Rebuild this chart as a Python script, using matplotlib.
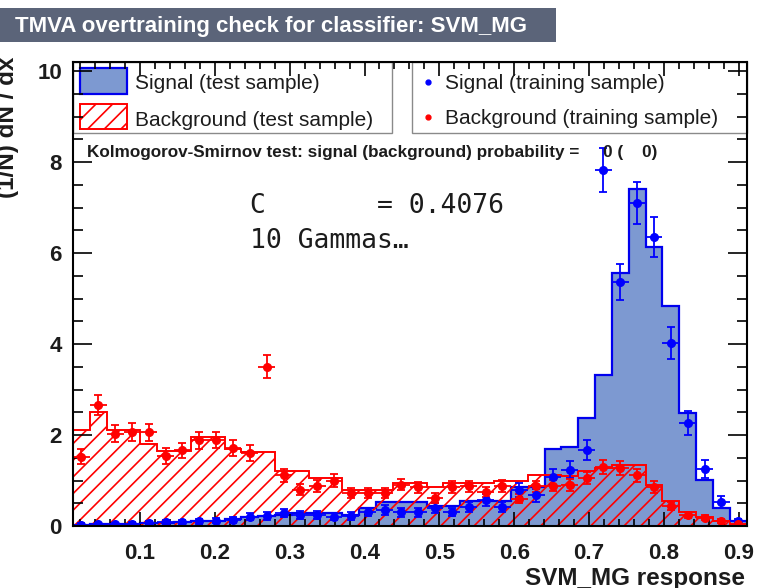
import numpy as np
import matplotlib
matplotlib.use("Agg")
import matplotlib.pyplot as plt
from matplotlib.patches import Rectangle
from matplotlib.lines import Line2D
from matplotlib.ticker import MultipleLocator

# ---- classifier output histograms (normalised, 40 bins) ----
x_lo, x_hi = 0.0104, 0.9107
n_bins = 40

sig_test = [0.03, 0.04, 0.05, 0.05, 0.06, 0.07, 0.08, 0.10, 0.12, 0.15,
            0.20, 0.22, 0.25, 0.28, 0.28, 0.28, 0.25, 0.40, 0.53, 0.53,
            0.53, 0.45, 0.45, 0.55, 0.55, 0.55, 0.85, 0.85, 1.69, 1.74,
            2.37, 3.32, 5.56, 7.40, 6.13, 4.84, 2.48, 1.01, 0.39, 0.10]

bkg_test = [2.10, 2.50, 2.10, 2.10, 1.80, 1.65, 1.65, 1.95, 1.95, 1.70,
            1.63, 1.63, 1.20, 1.20, 1.05, 1.05, 0.80, 0.80, 0.80, 0.95,
            0.95, 0.85, 0.95, 0.95, 0.95, 1.00, 1.00, 1.12, 1.12, 1.10,
            1.20, 1.27, 1.34, 1.34, 0.90, 0.55, 0.30, 0.20, 0.10, 0.04]

sig_train = [0.03, 0.04, 0.04, 0.05, 0.06, 0.08, 0.09, 0.10, 0.12, 0.14,
             0.20, 0.22, 0.28, 0.24, 0.24, 0.20, 0.22, 0.31, 0.35, 0.30,
             0.30, 0.40, 0.31, 0.42, 0.57, 0.42, 0.79, 0.68, 1.08, 1.24,
             1.67, 7.82, 5.36, 7.10, 6.35, 4.02, 2.27, 1.25, 0.53, 0.10]

bkg_train = [1.52, 2.66, 2.03, 2.07, 2.06, 1.54, 1.66, 1.88, 1.89, 1.71,
             1.61, 3.50, 1.12, 0.80, 0.88, 1.00, 0.72, 0.72, 0.72, 0.91,
             0.85, 0.62, 0.86, 0.87, 0.75, 0.88, 0.60, 0.87, 0.89, 0.90,
             1.05, 1.30, 1.27, 1.12, 0.86, 0.43, 0.25, 0.18, 0.11, 0.05]

# Poisson scale factors (1 / (N * bin width)) for the training samples
sig_scale = 0.030
bkg_scale = 0.018

title = "TMVA overtraining check for classifier: SVM_MG"
ks_text = "Kolmogorov-Smirnov test: signal (background) probability =     0 (    0)"
info_lines = ["C       = 0.4076", "10 Gammas\u2026"]
x_label = "SVM_MG response"
y_label = "(1/N) dN / dx"

SIG_FILL = "#7d99d1"
SIG_LINE = "#0000ee"
BKG_LINE = "#ff0000"
TXT = "#1c1c1c"

plt.rcParams["hatch.color"] = BKG_LINE
plt.rcParams["hatch.linewidth"] = 1.2
SANS = ["Liberation Sans", "DejaVu Sans"]

W, H = 757, 588
fig = plt.figure(figsize=(W / 100, H / 100), dpi=100)
fig.patch.set_facecolor("white")


def fx(px):
    return px / W


def fy(py):
    return 1 - py / H


AX_L, AX_R, AX_T, AX_B = 73, 747, 62, 526
ax = fig.add_axes([fx(AX_L), fy(AX_B), (AX_R - AX_L) / W, (AX_B - AX_T) / H])
ax.set_axisbelow(False)

edges = np.linspace(x_lo, x_hi, n_bins + 1)
centers = 0.5 * (edges[:-1] + edges[1:])
half = 0.5 * (edges[1] - edges[0])

# test-sample histograms
ax.stairs(sig_test, edges, fill=True, color=SIG_FILL, zorder=1)
ax.stairs(sig_test, edges, color=SIG_LINE, lw=1.6, zorder=1.1)
ax.stairs(bkg_test, edges, fill=True, facecolor="none", edgecolor=BKG_LINE,
          hatch="//", lw=0, zorder=1.2)
ax.stairs(bkg_test, edges, color=BKG_LINE, lw=1.4, zorder=1.3)

# training-sample points with statistical errors
for vals, scale, col in [(sig_train, sig_scale, "#0000ff"),
                         (bkg_train, bkg_scale, "#ff0000")]:
    v = np.asarray(vals)
    err = np.sqrt(v * scale)
    ax.errorbar(centers, v, xerr=half, fmt="none", ecolor=col,
                elinewidth=1.3, capsize=0, zorder=3)
    ax.errorbar(centers, v, yerr=err, fmt="o", color=col, ms=5.5,
                mec=col, elinewidth=1.3, capsize=3, capthick=1.3, zorder=3.1)

ax.set_xlim(x_lo, x_hi + 0.0005)
ax.set_ylim(0, 10.2)

ax.xaxis.set_major_locator(MultipleLocator(0.1))
ax.xaxis.set_minor_locator(MultipleLocator(0.02))
ax.yaxis.set_major_locator(MultipleLocator(2))
ax.yaxis.set_minor_locator(MultipleLocator(0.5))
ax.tick_params(which="both", direction="in", top=True, right=True,
               width=1.2, color="black")
ax.tick_params(axis="x", which="major", length=10, pad=12)
ax.tick_params(axis="x", which="minor", length=5)
ax.tick_params(axis="y", which="major", length=14, pad=8)
ax.tick_params(axis="y", which="minor", length=7)
for lab in ax.get_xticklabels() + ax.get_yticklabels():
    lab.set_fontfamily(SANS)
    lab.set_fontweight("bold")
    lab.set_fontsize(16)
    lab.set_color(TXT)
for sp in ax.spines.values():
    sp.set_linewidth(1.5)
    sp.set_color("black")
    sp.set_zorder(5)

# axis titles
fig.text(fx(745), fy(585), x_label, ha="right", va="baseline",
         fontsize=17.5, fontweight="bold", family=SANS, color=TXT)
fig.text(fx(8), fy(57), y_label, ha="center", va="top", rotation=90,
         fontsize=17.5, fontweight="bold", family=SANS, color=TXT)

# title banner
fig.patches.append(Rectangle((0, fy(42)), fx(556), fy(8) - fy(42),
                             transform=fig.transFigure, facecolor="#5b6479",
                             edgecolor="none", zorder=0))
fig.text(fx(15), fy(32), title, ha="left", va="baseline", color="white",
         fontsize=16, fontweight="bold", family=SANS)


def box(x0, y0, x1, y1, **kw):
    r = Rectangle((fx(x0), fy(y1)), fx(x1) - fx(x0), fy(y0) - fy(y1),
                  transform=fig.transFigure, clip_on=False, **kw)
    ax.add_patch(r)
    return r


# legend: test samples
box(73, 62, 392, 133, facecolor="white", edgecolor="#8a8a8a", lw=1.0, zorder=1.8)
box(80, 68, 127, 94, facecolor=SIG_FILL, edgecolor=SIG_LINE, lw=1.6, zorder=1.9)
box(80, 104, 127, 129, facecolor="white", edgecolor=BKG_LINE, hatch="//",
    lw=1.4, zorder=1.9)
ax.text(fx(135), fy(89), "Signal (test sample)", transform=fig.transFigure,
        ha="left", va="baseline", fontsize=15, family=SANS, color=TXT, zorder=4)
ax.text(fx(135), fy(126), "Background (test sample)", transform=fig.transFigure,
        ha="left", va="baseline", fontsize=15, family=SANS, color=TXT, zorder=4)

# legend: training samples
box(412, 62, 747, 133, facecolor="white", edgecolor="#8a8a8a", lw=1.0, zorder=1.8)
for yy, col, lab in [(82, "#0000ff", "Signal (training sample)"),
                     (117, "#ff0000", "Background (training sample)")]:
    ax.add_line(Line2D([fx(428)], [fy(yy)], transform=fig.transFigure,
                       marker="o", ms=3.5, color=col, ls="none",
                       clip_on=False, zorder=4))
    ax.text(fx(445), fy(yy + 7), lab, transform=fig.transFigure,
            ha="left", va="baseline", fontsize=15, family=SANS, color=TXT,
            zorder=4)

# Kolmogorov-Smirnov result
fig.text(fx(87), fy(157), ks_text, ha="left", va="baseline", fontsize=12.3,
         fontweight="bold", family=SANS, color=TXT)

# classifier settings
for i, line in enumerate(info_lines):
    fig.text(fx(250), fy(213 + 35 * i), line, ha="left", va="baseline",
             fontsize=19, family=["DejaVu Sans Mono"], color=TXT)

fig.savefig("out.png", dpi=100, facecolor="white")
